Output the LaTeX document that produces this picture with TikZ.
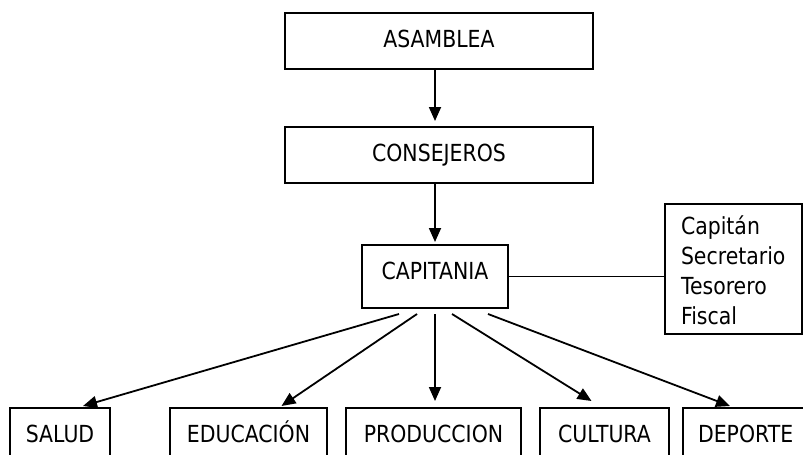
\documentclass[tikz,border=0pt]{standalone}
\usepackage{fontspec}
\setmainfont[FakeStretch=0.87]{DejaVu Sans}
\usetikzlibrary{arrows.meta,calc}
\begin{document}
\begin{tikzpicture}[x=1pt,y=-1pt,
  box/.style={draw, line width=2pt, inner sep=0pt, font=\fontsize{23.5}{30}\selectfont},
  single/.style={text height=17pt, text depth=5pt},
  low/.style={text height=20pt, text depth=2pt},
  arr/.style={line width=1.8pt, -{Triangle[length=14pt,width=12pt]}},
  link/.style={line width=1.8pt}]
\useasboundingbox (0,0) rectangle (803,455);
\clip (0,0) rectangle (803,455);
\fill[white] (0,0) rectangle (803,455);
\node[box, single, minimum width=308pt, minimum height=56pt] (asam) at (439,41) {ASAMBLEA};
\node[box, single, minimum width=308pt, minimum height=56pt] (cons) at (439,155) {CONSEJEROS};
\node[box, text height=14pt, text depth=9pt, minimum width=146pt, minimum height=63pt] (cap) at (435,276.5) {CAPITANIA};
\node[box, anchor=north west, minimum width=137pt, inner xsep=16pt, inner ysep=5pt, text height=25pt, text depth=95pt, text width=105pt, align=left] (roles) at (664,203) {Capitán\\Secretario\\Tesorero\\Fiscal};
\node[box, low, minimum width=100pt, minimum height=50pt] (salud) at (60,433) {SALUD};
\node[box, low, minimum width=157pt, minimum height=50pt] (educ) at (248.5,433) {EDUCACIÓN};
\node[box, low, minimum width=175pt, minimum height=50pt] (prod) at (433.5,433) {PRODUCCION};
\node[box, low, minimum width=129pt, minimum height=50pt] (cult) at (604.5,433) {CULTURA};
\node[box, low, anchor=west, minimum height=50pt, inner xsep=15pt, text width=150pt, align=left] (dep) at (682,433) {DEPORTE};
\draw[arr, shorten >=5pt] (asam.south -| 435,0) -- (cons.north -| 435,0);
\draw[arr, shorten >=2pt] (cons.south -| 435,0) -- (cap.north);
\draw[link] (cap.east) -- (cap.east -| roles.west);
\draw[arr] ($(cap.south)+(-36,5)$) -- ($(salud.north)+(23,-1)$);
\draw[arr] ($(cap.south)+(-18,5)$) -- ($(educ.north)+(33,-1)$);
\draw[arr] ($(cap.south)+(0,5)$) -- ($(cap.south |- prod.north)+(0,-6)$);
\draw[arr] ($(cap.south)+(17,5)$) -- ($(cult.north)+(-13,-6)$);
\draw[arr] ($(cap.south)+(53,5)$) -- ($(dep.north west)+(48,-1)$);
\end{tikzpicture}
\end{document}
